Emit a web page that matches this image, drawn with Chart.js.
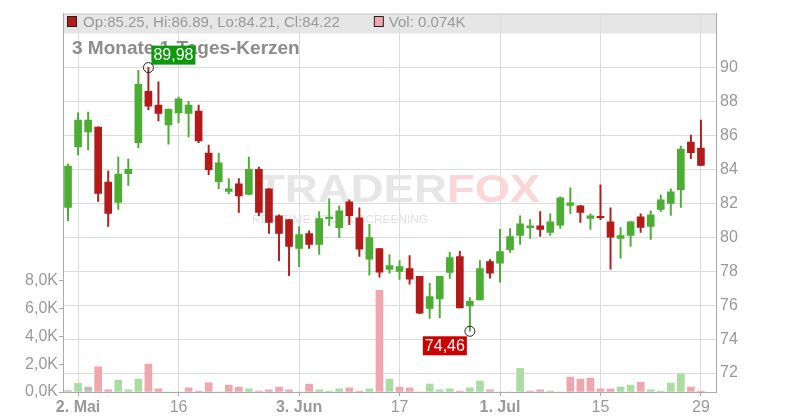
<!DOCTYPE html>
<html>
<head>
<meta charset="utf-8">
<script src="https://cdn.jsdelivr.net/npm/chart.js@4.4.1/dist/chart.umd.min.js"></script>
<style>
  html, body { margin: 0; padding: 0; background: #fff; }
  canvas { display: block; }
</style>
</head>
<body>
<canvas id="chart" width="800" height="420"></canvas>
<script>
// trading days, 30.04. - 29.07.
const dates = ['30.04.', '02.05.', '03.05.', '06.05.', '07.05.', '08.05.', '09.05.', '10.05.', '13.05.', '14.05.',
  '15.05.', '16.05.', '17.05.', '20.05.', '21.05.', '22.05.', '23.05.', '24.05.', '27.05.', '28.05.',
  '29.05.', '30.05.', '31.05.', '03.06.', '04.06.', '05.06.', '06.06.', '07.06.', '10.06.', '11.06.',
  '12.06.', '13.06.', '14.06.', '17.06.', '18.06.', '19.06.', '20.06.', '21.06.', '24.06.', '25.06.',
  '26.06.', '27.06.', '28.06.', '01.07.', '02.07.', '03.07.', '04.07.', '05.07.', '08.07.', '09.07.',
  '10.07.', '11.07.', '12.07.', '15.07.', '16.07.', '17.07.', '18.07.', '19.07.', '22.07.', '23.07.',
  '24.07.', '25.07.', '26.07.', '29.07.'];

const opens = [81.75, 85.32, 86.20, 86.48, 83.25, 82.04, 83.74, 85.56, 88.59, 87.77,
  86.61, 87.32, 87.28, 87.42, 84.95, 83.27, 82.70, 83.14, 82.51, 84.00,
  82.84, 81.26, 81.03, 79.34, 80.21, 79.58, 81.09, 80.56, 82.08, 81.14,
  78.70, 79.33, 78.10, 77.98, 78.15, 77.69, 75.81, 76.36, 77.92, 78.86,
  75.95, 76.30, 78.56, 78.47, 79.27, 80.11, 80.56, 80.67, 80.28, 80.70,
  81.87, 81.85, 81.10, 81.22, 80.91, 79.93, 80.11, 81.20, 80.63, 81.63,
  81.98, 82.80, 85.60, 85.25];
const highs = [84.30, 87.32, 87.36, 86.50, 83.90, 84.72, 84.60, 89.82, 89.98, 89.15,
  87.55, 88.25, 88.00, 87.77, 85.42, 84.95, 83.45, 83.45, 84.72, 84.13,
  82.86, 81.32, 81.05, 80.62, 80.38, 81.50, 82.26, 81.85, 82.20, 81.73,
  80.75, 79.35, 78.98, 78.62, 78.92, 77.70, 77.28, 77.70, 79.11, 79.17,
  76.45, 78.62, 78.68, 80.46, 80.50, 81.26, 81.03, 81.50, 81.38, 82.38,
  82.90, 81.87, 81.38, 83.08, 81.73, 80.56, 80.92, 81.38, 81.55, 82.49,
  82.84, 85.36, 86.01, 86.89];
const lows = [80.97, 84.84, 85.13, 82.10, 80.63, 81.63, 83.04, 85.27, 87.50, 86.85,
  85.48, 86.73, 85.90, 85.56, 83.68, 82.86, 82.55, 81.46, 82.50, 81.26,
  80.22, 78.62, 77.74, 78.27, 79.34, 78.99, 80.68, 79.97, 80.73, 78.86,
  77.76, 77.64, 77.88, 77.51, 77.23, 75.50, 75.22, 75.24, 77.57, 75.83,
  74.46, 76.30, 77.59, 77.35, 79.10, 79.58, 79.93, 80.05, 80.11, 80.52,
  81.40, 80.87, 80.46, 81.03, 78.11, 78.76, 79.46, 80.28, 79.87, 81.51,
  81.28, 81.75, 84.62, 84.21];
const closes = [84.19, 86.89, 86.89, 82.57, 81.40, 83.72, 84.00, 89.00, 87.71, 87.28,
  87.53, 88.14, 87.77, 85.66, 83.98, 84.37, 82.84, 82.43, 84.00, 81.46,
  80.87, 80.22, 79.46, 80.15, 79.58, 81.09, 81.18, 81.55, 81.26, 79.29,
  79.97, 77.94, 78.33, 78.27, 77.53, 75.53, 76.51, 77.69, 78.80, 75.83,
  76.22, 78.15, 77.88, 79.15, 80.03, 80.79, 80.67, 80.46, 80.91, 82.32,
  82.02, 81.46, 81.26, 81.15, 80.00, 80.09, 80.91, 80.58, 81.32, 82.20,
  82.67, 85.19, 84.97, 84.22];
const volumes = [100, 620, 360, 1800, 150, 850, 150, 930, 2000, 220,
  0, 0, 300, 70, 650, 0, 500, 360, 220, 70,
  150, 360, 150, 0, 570, 150, 70, 220, 300, 70,
  220, 7300, 930, 360, 300, 0, 570, 150, 220, 70,
  300, 780, 150, 0, 0, 1700, 70, 150, 70, 0,
  1070, 930, 1000, 220, 220, 360, 500, 700, 150, 70,
  640, 1300, 360, 74];

const priceTicks = [72, 74, 76, 78, 80, 82, 84, 86, 88, 90];
const volumeTicks = [0, 2000, 4000, 6000, 8000];
const xTickDates = ['02.05.', '16.05.', '03.06.', '17.06.', '01.07.', '15.07.', '29.07.'];
const xTickLabels = ['2. Mai', '16', '3. Jun', '17', '1. Jul', '15', '29'];
const boldLabels = ['2. Mai', '3. Jun', '1. Jul'];
const title = '3 Monate 1-Tages-Kerzen';

const GREEN = '#4bae33';
const RED = '#b51a1a';
const VOL_UP = '#abdca4';
const VOL_DOWN = '#f0a6ae';
const VOL_FLAT = '#bdbdbd';
const GRID = '#dcdcdc';
const AXIS = '#aaaaaa';
const TEXT = '#999999';

Chart.defaults.font.family = '"Liberation Sans", Arial, sans-serif';
Chart.defaults.font.size = 16;
Chart.defaults.color = TEXT;

// one empty slot after the last day
const labels = dates.concat(['']);
const candleColors = opens.map((o, i) => closes[i] >= o ? GREEN : RED);
const volColors = closes.map((c, i) => {
  if (i === 0 || c > closes[i - 1]) return VOL_UP;
  if (c < closes[i - 1]) return VOL_DOWN;
  return VOL_FLAT;
});

function tickText(index) {
  const k = xTickDates.indexOf(labels[index]);
  return k >= 0 ? xTickLabels[k] : '';
}

function fmt(v) { return v.toFixed(2).replace('.', ','); }

const overlay = {
  id: 'overlay',
  beforeDraw(chart) {
    const { ctx, chartArea: a } = chart;
    ctx.save();
    ctx.fillStyle = '#e6e6e6';
    ctx.fillRect(a.left, a.top, a.right - a.left, 20);
    ctx.strokeStyle = '#c8c8c8';
    ctx.lineWidth = 1;
    ctx.beginPath();
    ctx.moveTo(a.left, a.top + 0.5);
    ctx.lineTo(a.right, a.top + 0.5);
    ctx.stroke();
    ctx.restore();
  },
  beforeDatasetsDraw(chart) {
    // watermark
    const ctx = chart.ctx;
    ctx.save();
    ctx.font = 'bold 38px "Liberation Sans", Arial, sans-serif';
    ctx.textBaseline = 'alphabetic';
    let w = ctx.measureText('TRADER').width;
    ctx.save();
    ctx.translate(257, 202);
    ctx.scale(190 / w, 1);
    ctx.fillStyle = '#e6e6e6';
    ctx.fillText('TRADER', 0, 0);
    ctx.restore();
    w = ctx.measureText('FOX').width;
    ctx.save();
    ctx.translate(447, 202);
    ctx.scale(93 / w, 1);
    ctx.fillStyle = '#fbd6d6';
    ctx.fillText('FOX', 0, 0);
    ctx.restore();
    ctx.font = '11px "Liberation Sans", Arial, sans-serif';
    const sub = 'REALTIME STOCK SCREENING';
    w = ctx.measureText(sub).width;
    ctx.save();
    ctx.translate(252, 223);
    ctx.scale(176 / w, 1);
    ctx.fillStyle = '#e0e0e0';
    ctx.fillText(sub, 0, 0);
    ctx.restore();
    ctx.restore();
  },
  afterDatasetsDraw(chart) {
    const ctx = chart.ctx;
    const last = opens.length - 1;
    ctx.save();
    // legend line in the grey bar
    ctx.font = '15px "Liberation Sans", Arial, sans-serif';
    ctx.textBaseline = 'alphabetic';
    const txt = 'Op:' + opens[last].toFixed(2) + ', Hi:' + highs[last].toFixed(2) +
      ', Lo:' + lows[last].toFixed(2) + ', Cl:' + closes[last].toFixed(2);
    ctx.fillStyle = candleColors[last];
    ctx.fillRect(67.5, 16.5, 9, 10);
    ctx.strokeStyle = '#222';
    ctx.lineWidth = 1;
    ctx.strokeRect(67.5, 16.5, 9, 10);
    ctx.fillStyle = TEXT;
    ctx.fillText(txt, 83, 27);
    const sx = 83 + ctx.measureText(txt).width + 34;
    ctx.fillStyle = volColors[last];
    ctx.fillRect(sx + 0.5, 16.5, 9, 10);
    ctx.strokeRect(sx + 0.5, 16.5, 9, 10);
    ctx.fillStyle = TEXT;
    ctx.fillText('Vol: ' + (volumes[last] / 1000).toFixed(3) + 'K', sx + 15, 27);

    // title
    ctx.font = 'bold 19px "Liberation Sans", Arial, sans-serif';
    ctx.fillStyle = '#8c8c8c';
    ctx.fillText(title, 72, 54);
    ctx.restore();
  },
  afterDraw(chart) {
    const ctx = chart.ctx;
    const xs = chart.scales.x, ys = chart.scales.y;
    const hiIdx = highs.indexOf(Math.max(...highs));
    const loIdx = lows.indexOf(Math.min(...lows));
    ctx.save();
    ctx.font = '16px "Liberation Sans", Arial, sans-serif';
    ctx.textBaseline = 'middle';

    let px = xs.getPixelForValue(hiIdx), py = ys.getPixelForValue(highs[hiIdx]);
    let t = fmt(highs[hiIdx]);
    let w = ctx.measureText(t).width + 4;
    ctx.fillStyle = '#0a9a0a';
    ctx.fillRect(px + 3, py - 22, w, 19);
    ctx.fillStyle = '#fff';
    ctx.fillText(t, px + 5, py - 12);
    ctx.beginPath();
    ctx.arc(px, py, 5, 0, Math.PI * 2);
    ctx.strokeStyle = '#222';
    ctx.lineWidth = 1;
    ctx.stroke();

    px = xs.getPixelForValue(loIdx); py = ys.getPixelForValue(lows[loIdx]);
    t = fmt(lows[loIdx]);
    w = ctx.measureText(t).width + 4;
    ctx.fillStyle = '#cc0000';
    ctx.fillRect(px - 3 - w, py + 5, w, 19);
    ctx.fillStyle = '#fff';
    ctx.fillText(t, px - 1 - w, py + 15);
    ctx.beginPath();
    ctx.arc(px, py, 5, 0, Math.PI * 2);
    ctx.strokeStyle = '#222';
    ctx.stroke();
    ctx.restore();
  }
};

new Chart(document.getElementById('chart'), {
  type: 'bar',
  data: {
    labels: labels,
    datasets: [
      {
        label: 'body',
        data: opens.map((o, i) => [o, closes[i]]),
        backgroundColor: candleColors,
        barThickness: 7,
        grouped: false,
        yAxisID: 'y',
        order: 0
      },
      {
        label: 'wick',
        data: lows.map((l, i) => [l, highs[i]]),
        backgroundColor: candleColors,
        barThickness: 1.3,
        grouped: false,
        yAxisID: 'y',
        order: 1
      },
      {
        label: 'volume',
        data: volumes,
        backgroundColor: volColors,
        barThickness: 7,
        grouped: false,
        yAxisID: 'yv',
        order: 2
      }
    ]
  },
  options: {
    responsive: false,
    devicePixelRatio: 1,
    animation: false,
    layout: { padding: { top: 12, right: 0, bottom: 0, left: 0 } },
    plugins: {
      legend: { display: false },
      tooltip: { enabled: false }
    },
    scales: {
      x: {
        type: 'category',
        offset: true,
        grid: {
          offset: false,
          color: ctx => tickText(ctx.index) ? GRID : 'rgba(0,0,0,0)',
          tickColor: ctx => tickText(ctx.index) ? AXIS : 'rgba(0,0,0,0)',
          tickLength: 4
        },
        border: { color: AXIS, width: 1 },
        ticks: {
          autoSkip: false,
          maxRotation: 0,
          padding: 2,
          color: TEXT,
          font: ctx => ({ size: 16, weight: boldLabels.includes(tickText(ctx.index)) ? 'bold' : 'normal' }),
          callback: (value, index) => tickText(index)
        },
        afterFit: s => { s.height = 28; }
      },
      y: {
        position: 'right',
        min: 70.886,
        max: 93.16,
        grid: { color: GRID, drawTicks: false },
        border: { color: AXIS, width: 1 },
        ticks: { padding: 4, color: TEXT, font: { size: 16 } },
        afterBuildTicks: s => { s.ticks = priceTicks.map(v => ({ value: v })); },
        afterFit: s => { s.width = 84; }
      },
      yv: {
        position: 'left',
        min: 0,
        max: 27143,
        grid: { drawOnChartArea: false, color: AXIS, tickLength: 4 },
        border: { color: AXIS, width: 1 },
        ticks: {
          padding: 1,
          color: TEXT,
          font: { size: 16 },
          callback: v => (v / 1000).toFixed(1).replace('.', ',') + 'K'
        },
        afterBuildTicks: s => { s.ticks = volumeTicks.map(v => ({ value: v })); },
        afterFit: s => { s.width = 63; }
      }
    }
  },
  plugins: [overlay]
});
</script>
</body>
</html>
